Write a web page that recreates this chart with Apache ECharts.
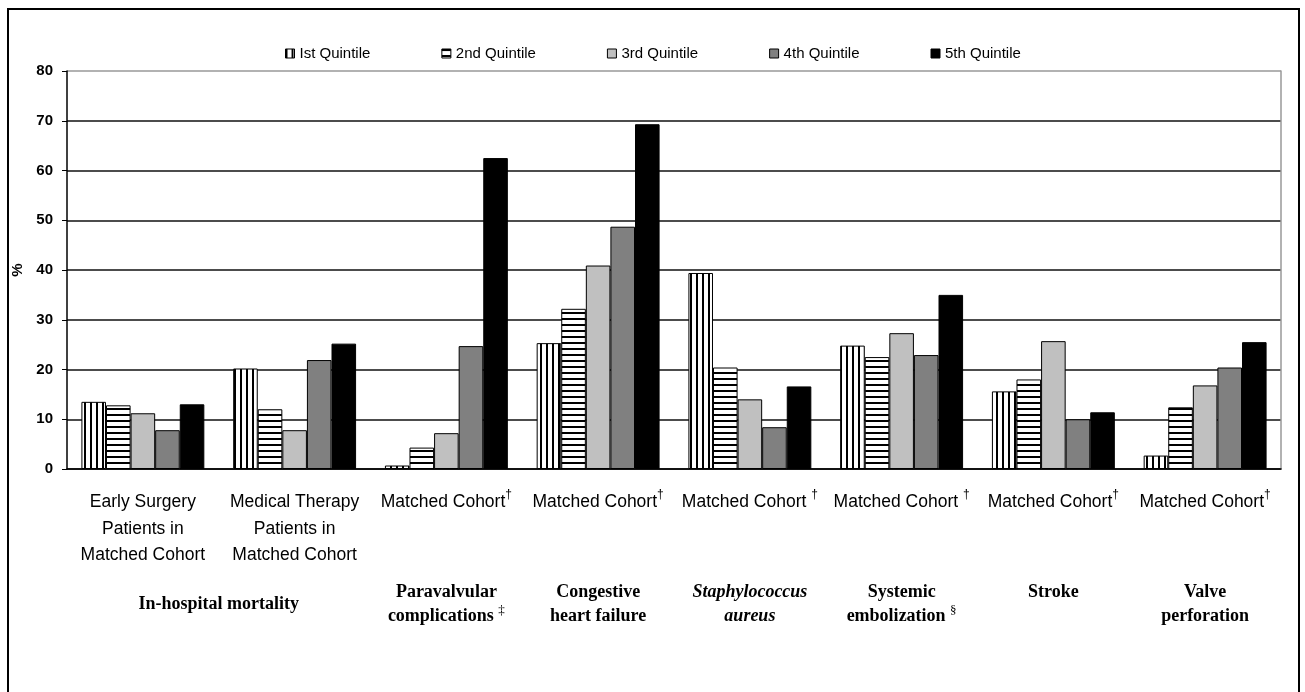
<!DOCTYPE html>
<html>
<head>
<meta charset="utf-8">
<script src="https://cdn.jsdelivr.net/npm/echarts@6/dist/echarts.min.js"></script>
<style>
  html, body { margin: 0; padding: 0; background: #fff; }
  #main { width: 1305px; height: 692px; }
</style>
</head>
<body>
<div id="main"></div>
<script>
// categories (bottom axis, first label row)
var categories = [
  'Early Surgery\nPatients in\nMatched Cohort',
  'Medical Therapy\nPatients in\nMatched Cohort',
  'Matched Cohort{s|†}',
  'Matched Cohort{s|†}',
  'Matched Cohort {s|†}',
  'Matched Cohort {s|†}',
  'Matched Cohort{s|†}',
  'Matched Cohort{s|†}'
];

// outcome group labels (second row) and where they sit on the 0..8 scale
var groupPos = [1, 2.5, 3.5, 4.5, 5.5, 6.5, 7.5];
var groupLabels = [
  '{bt|In-hospital mortality}',
  '{b|Paravalvular}\n{b|complications }{s|‡}',
  '{b|Congestive}\n{b|heart failure}',
  '{bi|Staphylococcus}\n{bi|aureus}',
  '{b|Systemic}\n{b|embolization }{s|§}',
  '{b|Stroke}',
  '{b|Valve}\n{b|perforation}'
];

var seriesNames = ['Ist Quintile', '2nd Quintile', '3rd Quintile', '4th Quintile', '5th Quintile'];

var q1 = [13.5, 20.2, 0.7, 25.3, 39.4, 24.8, 15.6, 2.7];
var q2 = [12.8, 12.0, 4.3, 32.2, 20.4, 22.5, 18.0, 12.4];
var q3 = [11.2, 7.8, 7.2, 40.9, 14.0, 27.3, 25.7, 16.8];
var q4 = [7.8, 21.9, 24.7, 48.7, 8.4, 22.9, 10.0, 20.4];
var q5 = [13.0, 25.2, 62.5, 69.3, 16.6, 35.0, 11.4, 25.5];

// stripe fills for the first two quintiles
function stripes(vertical) {
  var c = document.createElement('canvas');
  c.width = 6;
  c.height = 6;
  var ctx = c.getContext('2d');
  ctx.fillStyle = '#fff';
  ctx.fillRect(0, 0, 6, 6);
  ctx.fillStyle = '#000';
  if (vertical) ctx.fillRect(0, 0, 2, 6);
  else ctx.fillRect(0, 0, 6, 2);
  return { image: c, repeat: 'repeat' };
}

var fills = [stripes(true), stripes(false), '#c0c0c0', '#808080', '#000000'];
var values = [q1, q2, q3, q4, q5];

var sans = '"Liberation Sans", Arial, sans-serif';
var serif = '"Liberation Serif", "Times New Roman", serif';

var chartDom = document.getElementById('main');
var myChart = echarts.init(chartDom);
var option;

var series = [];
for (var i = 0; i < 5; i++) {
  series.push({
    name: seriesNames[i],
    type: 'bar',
    data: values[i],
    barGap: '0%',
    barCategoryGap: '19%',
    itemStyle: { color: fills[i], borderColor: '#000', borderWidth: 1 }
  });
}

option = {
  animation: false,
  backgroundColor: '#fff',
  graphic: [
    {
      type: 'rect',
      silent: true,
      z: -1,
      shape: { x: 8, y: 9, width: 1291, height: 720 },
      style: { fill: 'none', stroke: '#000', lineWidth: 2 }
    }
  ],
  legend: {
    left: 280,
    top: 41,
    icon: 'rect',
    itemWidth: 9,
    itemHeight: 9,
    itemGap: 71,
    itemStyle: { borderColor: '#000', borderWidth: 1 },
    textStyle: { fontFamily: sans, fontSize: 15, color: '#000' },
    data: seriesNames
  },
  grid: { left: 67, right: 24, top: 71, bottom: 223 },
  xAxis: [
    {
      type: 'category',
      data: categories,
      axisLine: { lineStyle: { color: '#000', width: 1.5 } },
      axisTick: { length: 8, lineStyle: { color: '#000' } },
      axisLabel: {
        interval: 0,
        margin: 20,
        color: '#000',
        fontFamily: sans,
        fontSize: 17.5,
        lineHeight: 26.5,
        rich: {
          s: { fontFamily: sans, fontSize: 12, lineHeight: 14, verticalAlign: 'top', color: '#000' }
        }
      }
    },
    {
      type: 'value',
      position: 'bottom',
      min: 0,
      max: 8,
      interval: 0.5,
      axisLine: { show: false },
      axisTick: { show: false },
      splitLine: { show: false },
      axisLabel: {
        margin: 111,
        color: '#000',
        showMinLabel: true,
        showMaxLabel: true,
        formatter: function (v) {
          var k = groupPos.indexOf(v);
          return k >= 0 ? groupLabels[k] : '';
        },
        rich: {
          b: { fontFamily: serif, fontWeight: 'bold', fontSize: 18, lineHeight: 24.5, color: '#000' },
          bi: { fontFamily: serif, fontWeight: 'bold', fontStyle: 'italic', fontSize: 18, lineHeight: 24.5, color: '#000' },
          bt: { fontFamily: serif, fontWeight: 'bold', fontSize: 18, lineHeight: 49, color: '#000' },
          s: { fontFamily: serif, fontSize: 13, lineHeight: 14, verticalAlign: 'top', color: '#000' }
        }
      }
    }
  ],
  yAxis: [
    {
      type: 'value',
      min: 0,
      max: 80,
      interval: 10,
      name: '%',
      nameLocation: 'middle',
      nameGap: 38,
      nameTextStyle: { fontFamily: sans, fontWeight: 'bold', fontSize: 15, color: '#000' },
      axisLine: { show: true, lineStyle: { color: '#000', width: 1.5 } },
      axisTick: { show: true, length: 5, lineStyle: { color: '#000' } },
      axisLabel: { margin: 14, fontFamily: sans, fontWeight: 'bold', fontSize: 15, color: '#000' },
      splitLine: {
        lineStyle: {
          color: ['#111', '#111', '#111', '#111', '#111', '#111', '#111', '#111', '#999'],
          width: 1.5
        }
      }
    },
    {
      type: 'value',
      position: 'right',
      min: 0,
      max: 80,
      interval: 10,
      axisLine: { show: true, lineStyle: { color: '#999', width: 1.5 } },
      axisTick: { show: false },
      axisLabel: { show: false },
      splitLine: { show: false }
    }
  ],
  series: series
};

option && myChart.setOption(option);
</script>
</body>
</html>
